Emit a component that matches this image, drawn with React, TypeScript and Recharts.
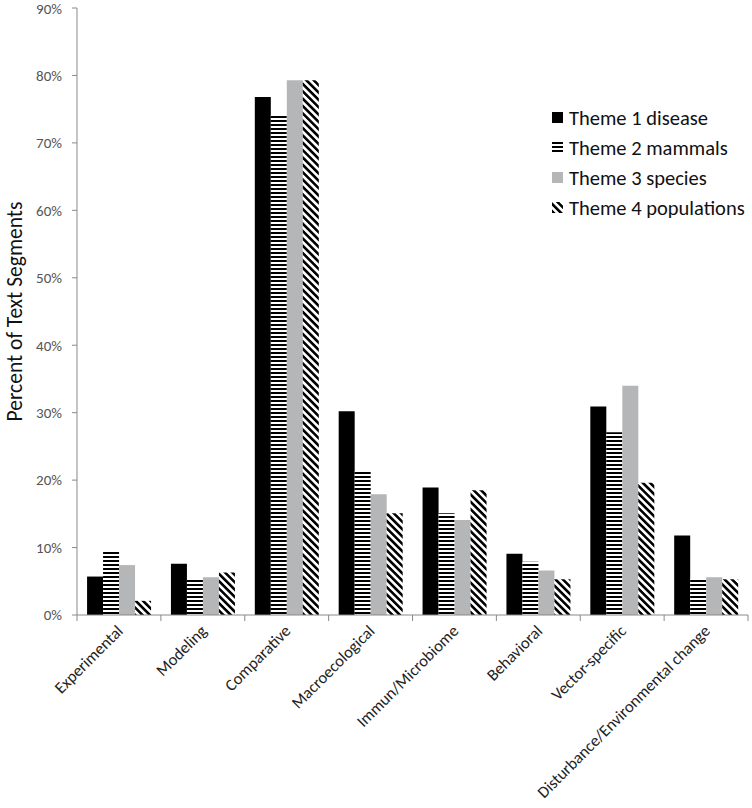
import React from "react";
import { BarChart, Bar, XAxis, YAxis, Legend, Label } from "recharts";

const categories = [
  "Experimental",
  "Modeling",
  "Comparative",
  "Macroecological",
  "Immun/Microbiome",
  "Behavioral",
  "Vector-specific",
  "Disturbance/Environmental change",
];
const disease = [0.057, 0.076, 0.768, 0.302, 0.189, 0.091, 0.309, 0.118];
const mammals = [0.096, 0.053, 0.741, 0.213, 0.151, 0.079, 0.271, 0.053];
const species = [0.074, 0.056, 0.793, 0.179, 0.141, 0.066, 0.34, 0.056];
const populations = [0.021, 0.063, 0.793, 0.151, 0.185, 0.053, 0.196, 0.053];
const yTicks = [0, 0.1, 0.2, 0.3, 0.4, 0.5, 0.6, 0.7, 0.8, 0.9];

const seriesInfo = [
  { key: "disease", name: "Theme 1 disease", fill: "#000000" },
  { key: "mammals", name: "Theme 2 mammals", fill: "url(#stripes)" },
  { key: "species", name: "Theme 3 species", fill: "#b5b6b8" },
  { key: "populations", name: "Theme 4 populations", fill: "url(#diag)" },
];

const data = categories.map((c, i) => ({
  name: c,
  disease: disease[i],
  mammals: mammals[i],
  species: species[i],
  populations: populations[i],
}));

const FONT = "Carlito, Lato, sans-serif";
const W = 752;
const H = 808;
const LEFT = 77;
const RIGHT = 4;
const AXIS_Y = 615;
const BAND = (W - LEFT - RIGHT) / categories.length;

const XTick = (props: any) => {
  const { x, y, payload, index } = props;
  const tx = x + 5;
  const ty = y + 17;
  return (
    <g>
      <line x1={x - BAND / 2} x2={x - BAND / 2} y1={y} y2={y + 6} stroke="#898989" />
      {index === categories.length - 1 && (
        <line x1={x + BAND / 2} x2={x + BAND / 2} y1={y} y2={y + 6} stroke="#898989" />
      )}
      <text
        x={tx}
        y={ty}
        transform={`rotate(-45, ${tx}, ${ty})`}
        textAnchor="end"
        fontSize={16.5}
        fontFamily={FONT}
        fill="#222"
      >
        {payload.value}
      </text>
    </g>
  );
};

const LegendBox = () => (
  <div style={{ fontFamily: FONT, fontSize: 20.5, color: "#111" }}>
    {seriesInfo.map((s) => (
      <div key={s.key} style={{ display: "flex", alignItems: "center", height: 30 }}>
        <svg width={12} height={12} style={{ marginRight: 5 }}>
          <rect x={0} y={0} width={11} height={11} fill={s.fill} />
        </svg>
        <span>{s.name}</span>
      </div>
    ))}
  </div>
);

const App = () => {
  return (
    <div style={{ position: "absolute", left: 0, top: 0, background: "#fff" }}>
      <BarChart
        width={W}
        height={H}
        data={data}
        margin={{ top: 8, right: RIGHT, left: 0, bottom: 0 }}
        barCategoryGap="12%"
        barGap={0}
      >
        <defs>
          <pattern id="stripes" width={4} height={4} patternUnits="userSpaceOnUse">
            <rect width={4} height={4} fill="#ffffff" />
            <rect width={4} height={2} fill="#000000" />
          </pattern>
          <pattern
            id="diag"
            width={5.2}
            height={5.2}
            patternUnits="userSpaceOnUse"
            patternTransform="rotate(45)"
          >
            <rect width={5.2} height={5.2} fill="#ffffff" />
            <rect width={5.2} height={2.6} fill="#000000" />
          </pattern>
        </defs>
        <XAxis
          dataKey="name"
          interval={0}
          height={H - AXIS_Y}
          tickLine={false}
          tickSize={0}
          tickMargin={0}
          stroke="#898989"
          tick={<XTick />}
        />
        <YAxis
          domain={[0, 0.9]}
          ticks={yTicks}
          width={LEFT}
          tickSize={5}
          tickMargin={10}
          stroke="#898989"
          tick={{ fill: "#555", fontSize: 15, fontFamily: FONT }}
          tickFormatter={(v: number) => `${Math.round(v * 100)}%`}
        >
          <Label
            content={(p: any) => {
              const vb = p.viewBox;
              const cx = 15;
              const cy = vb.y + vb.height / 2;
              return (
                <text
                  x={cx}
                  y={cy}
                  transform={`rotate(-90, ${cx}, ${cy})`}
                  textAnchor="middle"
                  dominantBaseline="central"
                  fontSize={21.5}
                  fontFamily={FONT}
                  fill="#111"
                >
                  Percent of Text Segments
                </text>
              );
            }}
          />
        </YAxis>
        <Legend
          layout="vertical"
          verticalAlign="middle"
          align="center"
          content={<LegendBox />}
          wrapperStyle={{ position: "absolute", left: 552, top: 103, width: 200 }}
        />
        {seriesInfo.map((s) => (
          <Bar
            key={s.key}
            dataKey={s.key}
            name={s.name}
            fill={s.fill}
            isAnimationActive={false}
          />
        ))}
      </BarChart>
    </div>
  );
};

export default App;
